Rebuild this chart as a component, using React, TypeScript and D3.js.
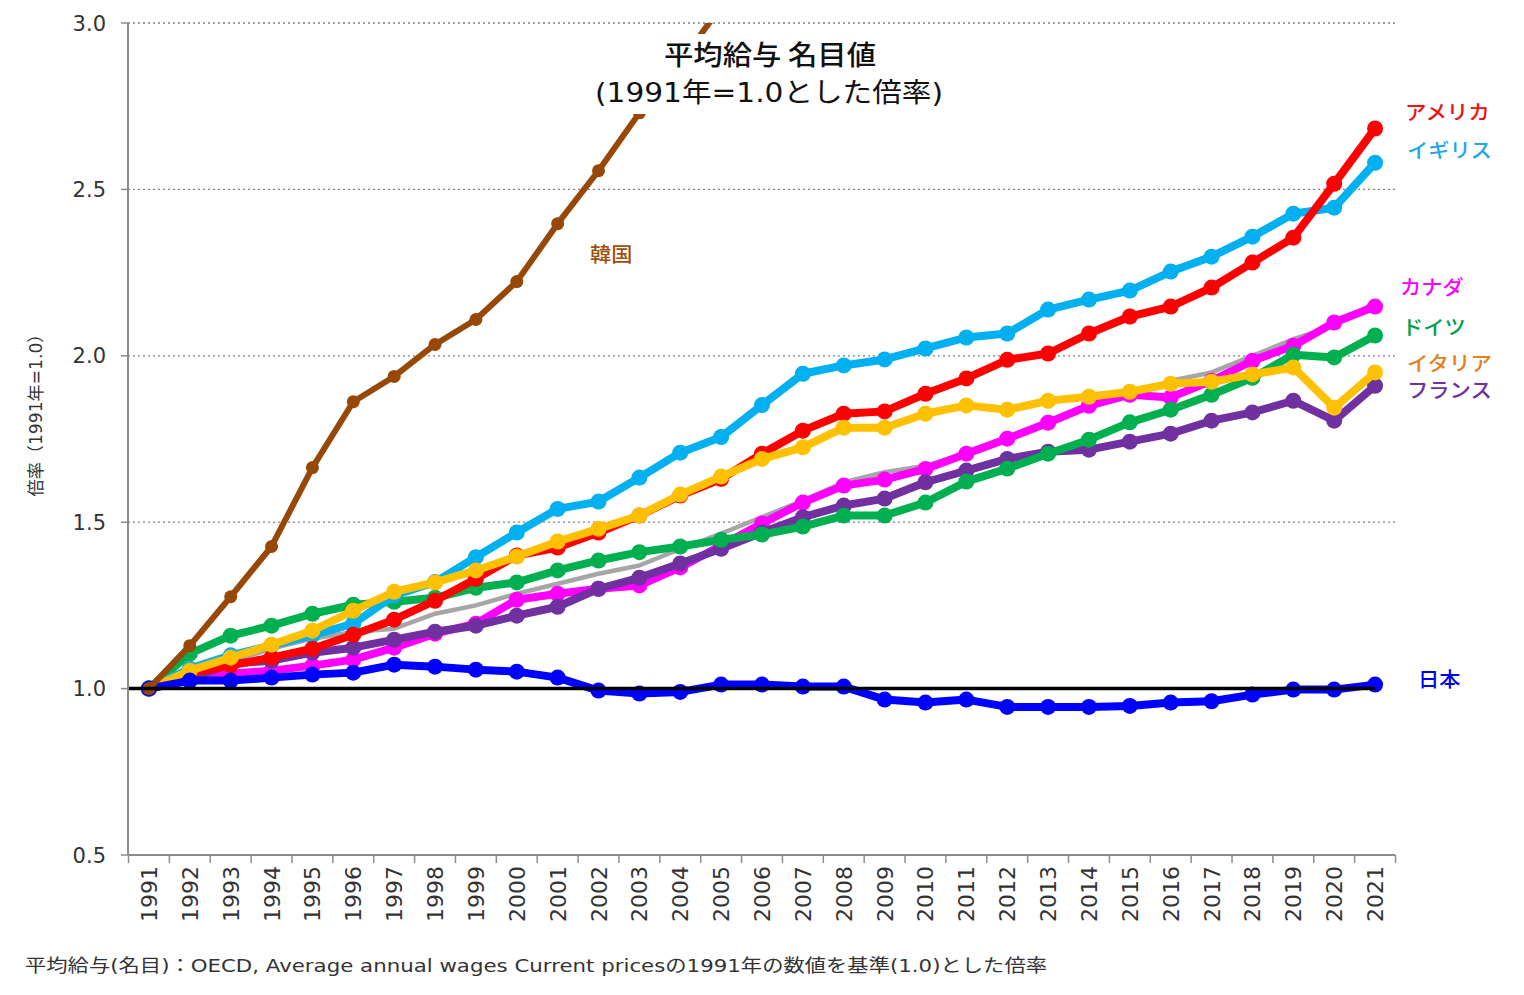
import React from "react";
import * as d3 from "d3";

const years = d3.range(1991, 2022).map(String);

const korea = [1.0, 1.129, 1.276, 1.427, 1.664, 1.862, 1.938, 2.034, 2.109, 2.223, 2.397, 2.556, 2.73, 2.88, 3.05, 3.2, 3.35, 3.45, 3.45, 3.6, 3.68, 3.8, 3.9, 3.95, 4.05, 4.15, 4.3, 4.45, 4.55, 4.6, 4.8];
const usa = [1.0, 1.045, 1.07, 1.093, 1.12, 1.162, 1.207, 1.264, 1.33, 1.4, 1.424, 1.469, 1.52, 1.58, 1.63, 1.706, 1.775, 1.826, 1.833, 1.886, 1.932, 1.988, 2.007, 2.067, 2.118, 2.148, 2.205, 2.28, 2.355, 2.517, 2.683];
const uk = [1.0, 1.06, 1.1, 1.13, 1.16, 1.195, 1.28, 1.32, 1.395, 1.469, 1.54, 1.562, 1.634, 1.709, 1.756, 1.852, 1.946, 1.971, 1.989, 2.022, 2.055, 2.067, 2.139, 2.169, 2.196, 2.253, 2.298, 2.358, 2.427, 2.445, 2.58];
const canada = [1.0, 1.025, 1.045, 1.054, 1.069, 1.087, 1.123, 1.165, 1.195, 1.267, 1.285, 1.3, 1.31, 1.364, 1.43, 1.496, 1.559, 1.61, 1.628, 1.66, 1.706, 1.751, 1.799, 1.85, 1.883, 1.875, 1.925, 1.985, 2.03, 2.1, 2.148];
const germany = [1.0, 1.105, 1.159, 1.189, 1.225, 1.252, 1.261, 1.273, 1.303, 1.319, 1.355, 1.385, 1.41, 1.427, 1.447, 1.463, 1.487, 1.52, 1.52, 1.559, 1.622, 1.661, 1.706, 1.748, 1.8, 1.838, 1.883, 1.934, 2.003, 1.995, 2.061];
const italy = [1.0, 1.054, 1.093, 1.132, 1.174, 1.234, 1.291, 1.319, 1.355, 1.397, 1.442, 1.48, 1.52, 1.583, 1.637, 1.69, 1.725, 1.784, 1.784, 1.826, 1.851, 1.838, 1.865, 1.877, 1.892, 1.916, 1.922, 1.944, 1.965, 1.844, 1.95];
const france = [1.0, 1.03, 1.075, 1.084, 1.108, 1.123, 1.147, 1.171, 1.189, 1.219, 1.246, 1.3, 1.333, 1.376, 1.42, 1.469, 1.515, 1.55, 1.571, 1.62, 1.655, 1.69, 1.712, 1.718, 1.742, 1.766, 1.805, 1.83, 1.865, 1.805, 1.91];
const japan = [1.0, 1.024, 1.024, 1.033, 1.042, 1.048, 1.072, 1.066, 1.057, 1.051, 1.033, 0.994, 0.985, 0.99, 1.012, 1.012, 1.006, 1.006, 0.967, 0.958, 0.967, 0.945, 0.945, 0.945, 0.948, 0.958, 0.962, 0.982, 0.997, 0.997, 1.012];
const average = [1.0, 1.04, 1.08, 1.12, 1.15, 1.17, 1.18, 1.225, 1.25, 1.285, 1.315, 1.345, 1.37, 1.42, 1.466, 1.515, 1.565, 1.62, 1.65, 1.67, 1.706, 1.75, 1.796, 1.845, 1.88, 1.925, 1.95, 2.0, 2.05, 2.09, 2.16];

const yTicks = [0.5, 1.0, 1.5, 2.0, 2.5, 3.0];
const gridTicks = [1.5, 2.0, 2.5, 3.0];

const title1 = "平均給与 名目値";
const title2 = "(1991年=1.0とした倍率)";
const yTitle = "倍率（1991年=1.0）";
const footnote = "平均給与(名目)：OECD, Average annual wages Current pricesの1991年の数値を基準(1.0)とした倍率";

type S = { name: string; values: number[]; color: string; width: number; r: number; markers: boolean };

// drawing order: bottom to top
const series: S[] = [
  { name: "平均", values: average, color: "#a6a6a6", width: 4.5, r: 0, markers: false },
  { name: "カナダ", values: canada, color: "#ff00ff", width: 8, r: 8, markers: true },
  { name: "フランス", values: france, color: "#7030a0", width: 8, r: 8, markers: true },
  { name: "ドイツ", values: germany, color: "#00b050", width: 8, r: 8, markers: true },
  { name: "イギリス", values: uk, color: "#00b0f0", width: 8, r: 8, markers: true },
  { name: "アメリカ", values: usa, color: "#ff0000", width: 8, r: 8, markers: true },
  { name: "イタリア", values: italy, color: "#ffc000", width: 8, r: 8, markers: true },
  { name: "日本", values: japan, color: "#0000ff", width: 8, r: 8, markers: true },
  { name: "韓国", values: korea, color: "#974706", width: 6, r: 6.5, markers: true },
];

const labels = [
  { text: "アメリカ", x: 1405, y: 120, color: "#ee1111" },
  { text: "イギリス", x: 1407, y: 158, color: "#1ea8e6" },
  { text: "カナダ", x: 1400, y: 295, color: "#ff00ff" },
  { text: "ドイツ", x: 1402, y: 335, color: "#00a04a" },
  { text: "イタリア", x: 1407, y: 371, color: "#e67e22" },
  { text: "フランス", x: 1407, y: 398, color: "#7030a0" },
  { text: "日本", x: 1418, y: 687, color: "#0000ee" },
  { text: "韓国", x: 590, y: 262, color: "#a0500e" },
];

const FONT = "'DejaVu Sans', 'Noto Sans CJK JP', sans-serif";
const CJK = "'Noto Sans CJK JP', sans-serif";

export default function App() {
  const left = 128, right = 1395, top = 23, bottom = 855;
  const x = d3.scaleBand<string>().domain(years).range([left + 0.5, right + 0.5]).padding(0);
  const cx = (i: number) => (x(years[i]) as number) + x.bandwidth() / 2;
  const y = d3.scaleLinear().domain([0.5, 3.0]).range([bottom, top]);
  const line = d3.line<number>().x((_, i) => cx(i)).y((v) => y(v));

  return (
    <svg width={1524} height={995} style={{ position: "absolute", left: 0, top: 0, background: "#fff" }} fontFamily={FONT}>
      <defs>
        <clipPath id="plot">
          <rect x={left} y={top} width={right - left} height={bottom - top} />
        </clipPath>
      </defs>
      <rect width={1524} height={995} fill="#fff" />
      {gridTicks.map((t) => (
        <line key={t} x1={left} x2={right} y1={y(t)} y2={y(t)} stroke="#808080" strokeWidth={1.3} strokeDasharray="2,3" />
      ))}
      <g clipPath="url(#plot)">
        {series.map((s) => (
          <g key={s.name}>
            <path d={line(s.values) || ""} fill="none" stroke={s.color} strokeWidth={s.width} strokeLinejoin="round" />
            {s.markers && s.values.map((v, i) => <circle key={i} cx={cx(i)} cy={y(v)} r={s.r} fill={s.color} />)}
          </g>
        ))}
        <line x1={left} x2={cx(years.length - 1)} y1={y(1.0)} y2={y(1.0)} stroke="#000" strokeWidth={3.5} />
      </g>
      <line x1={left} x2={left} y1={top} y2={bottom} stroke="#8c8c8c" strokeWidth={2} />
      <line x1={left} x2={right} y1={bottom} y2={bottom} stroke="#8c8c8c" strokeWidth={2} />
      {yTicks.map((t) => (
        <g key={t}>
          <line x1={left - 7} x2={left} y1={y(t)} y2={y(t)} stroke="#8c8c8c" strokeWidth={1.5} />
          <text x={106} y={y(t) + 7.5} textAnchor="end" fontSize={21} fill="#333">{t.toFixed(1)}</text>
        </g>
      ))}
      {years.map((yr) => (
        <line key={"t" + yr} x1={x(yr) as number} x2={x(yr) as number} y1={bottom} y2={bottom + 8} stroke="#8c8c8c" strokeWidth={1.5} />
      ))}
      <line x1={right + 0.5} x2={right + 0.5} y1={bottom} y2={bottom + 8} stroke="#8c8c8c" strokeWidth={1.5} />
      {years.map((yr, i) => (
        <text key={yr} transform={`translate(${cx(i) + 8},866) rotate(-90)`} textAnchor="end" fontSize={22} fill="#333">{yr}</text>
      ))}
      <text transform="translate(42,411) rotate(-90)" textAnchor="middle" fontSize={17} fill="#333" textLength={171} lengthAdjust="spacingAndGlyphs">{yTitle}</text>
      <rect x={592} y={34} width={356} height={80} fill="#fff" />
      <text x={770} y={65} textAnchor="middle" fontSize={27} fill="#111" fontWeight={500} fontFamily={CJK} textLength={212} lengthAdjust="spacingAndGlyphs">{title1}</text>
      <text x={769} y={102} textAnchor="middle" fontSize={27} fill="#111" textLength={348} lengthAdjust="spacingAndGlyphs">{title2}</text>
      {labels.map((l) => (
        <text key={l.text} x={l.x} y={l.y} fontSize={20} fill={l.color} fontWeight={500} fontFamily={CJK} textLength={l.text.length * 21.2} lengthAdjust="spacingAndGlyphs">{l.text}</text>
      ))}
      <text x={25} y={972} fontSize={18} fill="#333" textLength={1022} lengthAdjust="spacingAndGlyphs">{footnote}</text>
    </svg>
  );
}
